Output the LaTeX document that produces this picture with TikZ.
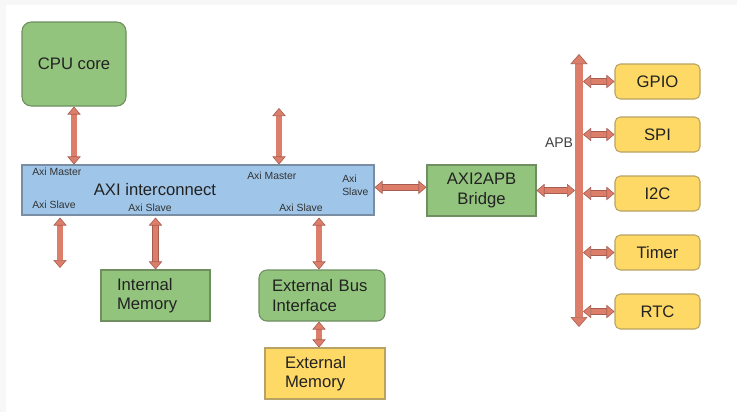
\documentclass[tikz,border=0pt]{standalone}
\usepackage{fontspec}
\setmainfont{Liberation Sans}
\usepackage{tikz}
\usetikzlibrary{arrows.meta,calc}
\definecolor{cpugreen}{HTML}{93C47D}
\definecolor{cpuedge}{HTML}{6F8F60}
\definecolor{axiblue}{HTML}{9FC5E8}
\definecolor{axiedge}{HTML}{7A8EA3}
\definecolor{periyellow}{HTML}{FFD966}
\definecolor{periedge}{HTML}{B8A365}
\definecolor{linkfill}{HTML}{DD7E6B}
\definecolor{linkedge}{HTML}{A65D50}
\definecolor{txt}{HTML}{222222}
\tikzset{
  block/.style={draw, line width=0.8pt, text=txt, inner sep=0pt,
    font=\fontsize{12.5}{14.5}\selectfont},
  greenbox/.style={block, fill=cpugreen, draw=cpuedge},
  yellowbox/.style={block, fill=periyellow, draw=periedge},
  portlbl/.style={anchor=west, inner sep=0pt, text=black!80, align=left,
    font=\fontsize{7.8}{9.5}\selectfont},
  link/.style={draw=linkedge, line width=0.45pt, double=linkfill, double distance=4pt,
    {Triangle[width=10pt,length=6pt,fill=linkfill,line width=0.45pt]}-{Triangle[width=10pt,length=6pt,fill=linkfill,line width=0.45pt]}},
  apbbus/.style={link, double distance=5.4pt,
    {Triangle[width=12.75pt,length=7.5pt,fill=linkfill,line width=0.45pt]}-{Triangle[width=12.75pt,length=7.5pt,fill=linkfill,line width=0.45pt]}}
}
\begin{document}
\begin{tikzpicture}[x=0.75pt, y=-0.75pt]
% page with the faint grey margin
\fill[black!3] (0,0) rectangle (737,412);
\fill[white] (6,5) rectangle (737,412);

\node[greenbox, rounded corners=7pt, minimum width=78pt, minimum height=63pt] (cpu) at (74,64) {CPU core};
\node[block, fill=axiblue, draw=axiedge, minimum width=264pt, minimum height=37.5pt] (axi) at (198,190) {};
\node[text=txt, inner sep=0pt, font=\fontsize{12.5}{14.5}\selectfont] (axititle) at (155,190) {AXI interconnect};

% port labels on the interconnect
\node[portlbl] (mst1) at (32,172) {Axi Master};
\node[portlbl] (slv1) at (32,205) {Axi Slave};
\node[portlbl] (slv2) at (128,208) {Axi Slave};
\node[portlbl] (mst2) at (247,176) {Axi Master};
\node[portlbl] (slv3) at (279,208) {Axi Slave};
\node[portlbl] (slv4) at (342,185.5) {Axi\\Slave};

\node[greenbox, minimum width=81.75pt, minimum height=38.25pt, text width=57.75pt, align=left] (intmem) at (155.5,295.5) {Internal\\Memory};
\node[greenbox, rounded corners=6pt, minimum width=94.5pt, minimum height=38.25pt, text width=75pt, align=left] (ebi) at (322,295.5) {External Bus\\Interface};
\node[yellowbox, minimum width=90pt, minimum height=38.25pt, text width=60pt, align=left] (extmem) at (325,373.5) {External\\Memory};
\node[greenbox, minimum width=81.75pt, minimum height=38.25pt, align=center] (bridge) at (481.5,190.5) {AXI2APB\\Bridge};

% APB bus and peripherals
\coordinate (apbtop) at (579,54);
\coordinate (apbbot) at (579,327);
\coordinate (apbL) at (575,0);
\coordinate (apbR) at (583,0);
\draw[apbbus] (apbtop) -- (apbbot);
\node[text=black!75, inner sep=0pt, font=\fontsize{10.5}{12}\selectfont] (apb) at (559,143) {APB};
\foreach \nm/\lbl/\y in {gpio/GPIO/81.5, spi/SPI/134.5, i2c/I2C/193.5, timer/Timer/252.5, rtc/RTC/311.5}
{
\node[yellowbox, rounded corners=4pt, minimum width=63.75pt, minimum height=26.25pt] (\nm) at (657.5,\y) {\lbl};
\draw[link] (\nm.west -| apbR) -- (\nm.west);
}

% interconnect links
\coordinate (upend) at (279,108);
\coordinate (downend) at (60,268);
\draw[link] (cpu.south) -- (cpu.south |- axi.north);
\draw[link] (upend) -- (upend |- axi.north);
\draw[link] ([yshift=-1.5pt]downend |- axi.south) -- (downend);
\draw[link] ([yshift=-1.5pt]intmem.north |- axi.south) -- (intmem.north);
\draw[link] ([xshift=-2.25pt,yshift=-1.5pt]ebi.north |- axi.south) -- ([xshift=-2.25pt]ebi.north);
\draw[link] ([xshift=-2.25pt]ebi.south) -- ([xshift=-2.25pt]ebi.south |- extmem.north);
\draw[link] ([yshift=2pt]axi.east) -- ([yshift=2pt]axi.east -| bridge.west);
\draw[link] (bridge.east) -- (bridge.east -| apbL);
\end{tikzpicture}
\end{document}
